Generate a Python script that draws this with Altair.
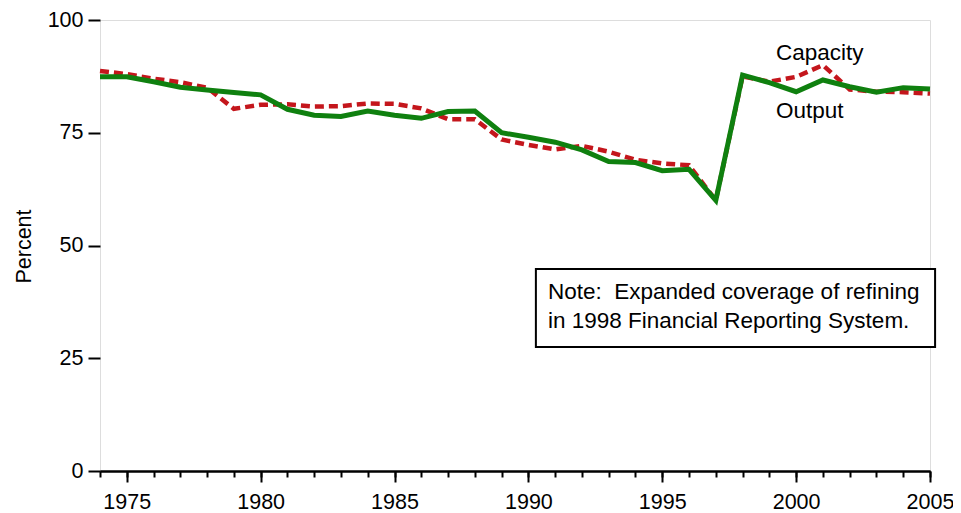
import altair as alt
import pandas as pd

years = list(range(1974, 2006))
output = [87.4, 87.4, 86.3, 85.1, 84.5, 83.9, 83.4, 80.2, 78.9, 78.6,
          79.8, 78.9, 78.2, 79.7, 79.8, 75.0, 74.0, 72.9, 71.2, 68.6,
          68.4, 66.6, 66.9, 60.0, 87.8, 86.1, 84.1, 86.7, 85.2, 84.0,
          85.0, 84.7]
capacity = [88.7, 88.0, 87.0, 86.2, 85.0, 80.3, 81.2, 81.3, 80.8, 80.9,
            81.5, 81.4, 80.4, 78.0, 78.0, 73.5, 72.3, 71.3, 72.1, 70.8,
            69.0, 68.2, 67.8, 60.0, 87.5, 86.3, 87.4, 90.0, 84.6, 84.1,
            84.0, 83.7]

major_ticks = [1975, 1980, 1985, 1990, 1995, 2000, 2005]
minor_ticks = years
y_ticks = [0, 25, 50, 75, 100]

series_labels = ["Capacity", "Output"]
label_year = [1999.25, 1999.25]
label_value = [91.1, 78.3]

note_lines = ["Note:\u00a0 Expanded coverage of refining",
              "in 1998 Financial Reporting System."]
note_year = [1990.73, 1990.73]
note_value = [38.1, 31.7]
note_box = {"x": 1990.28, "x2": 2005.19, "y": 44.8, "y2": 27.5}

FONT = "Liberation Sans"
FS = 21.5
FS_NOTE = 22.5

df_cap = pd.DataFrame({"year": years, "value": capacity})
df_out = pd.DataFrame({"year": years, "value": output})
df_lab = pd.DataFrame({"label": series_labels, "year": label_year, "value": label_value})
df_note = pd.DataFrame({"text": note_lines, "year": note_year, "value": note_value})
df_box = pd.DataFrame([note_box])

xscale = alt.Scale(domain=[1974, 2005], nice=False, zero=False)
yscale = alt.Scale(domain=[0, 100], nice=False)

minor_axis = alt.Axis(values=minor_ticks, tickSize=6, tickWidth=2, tickColor="black",
                      labels=False, domain=True, domainWidth=2, domainColor="black",
                      grid=False, title=None, orient="bottom")
major_axis = alt.Axis(values=major_ticks, tickSize=11, tickWidth=2, tickColor="black",
                      labelFontSize=FS, labelFont=FONT, labelColor="black", labelPadding=9,
                      format="d", domain=True, domainWidth=2, domainColor="black",
                      grid=False, title=None, orient="bottom", labelFlush=False)
y_axis = alt.Axis(values=y_ticks, tickSize=12, tickWidth=2, tickColor="black",
                  domain=False, grid=False, labelFontSize=FS, labelFont=FONT,
                  labelColor="black", labelPadding=5,
                  title="Percent", titleFont=FONT, titleFontSize=FS,
                  titleFontWeight="normal", titleColor="black",
                  titleX=-76, titleY=226, titleAngle=270,
                  titleBaseline="middle", titleAlign="center")

cap_line = alt.Chart(df_cap).mark_line(
    color="#c4161c", strokeWidth=4.5, strokeDash=[9, 5], strokeCap="butt"
).encode(
    x=alt.X("year:Q", scale=xscale, axis=minor_axis),
    y=alt.Y("value:Q", scale=yscale, axis=y_axis),
)

out_line = alt.Chart(df_out).mark_line(
    color="#0f800f", strokeWidth=5, strokeJoin="miter"
).encode(
    x=alt.X("year:Q", scale=xscale, axis=major_axis),
    y=alt.Y("value:Q", scale=yscale, axis=None),
)

labels = alt.Chart(df_lab).mark_text(
    align="left", baseline="alphabetic", font=FONT, fontSize=FS_NOTE, color="black"
).encode(
    x=alt.X("year:Q", scale=xscale, axis=None),
    y=alt.Y("value:Q", scale=yscale, axis=None),
    text="label:N",
)

box = alt.Chart(df_box).mark_rect(
    fill="white", stroke="black", strokeWidth=2
).encode(
    x=alt.X("x:Q", scale=xscale, axis=None),
    x2="x2:Q",
    y=alt.Y("y:Q", scale=yscale, axis=None),
    y2="y2:Q",
)

note = alt.Chart(df_note).mark_text(
    align="left", baseline="alphabetic", font=FONT, fontSize=FS_NOTE, color="black"
).encode(
    x=alt.X("year:Q", scale=xscale, axis=None),
    y=alt.Y("value:Q", scale=yscale, axis=None),
    text="text:N",
)

chart = alt.layer(cap_line, out_line, labels, box, note).resolve_axis(
    x="independent", y="independent"
).properties(
    width=830, height=451,
    autosize=alt.AutoSizeParams(type="none"),
    padding={"left": 92, "top": 12, "right": 23, "bottom": 46},
).configure_view(stroke=None).configure(background="white")

chart.save("out.html", embed_options={"renderer": "svg", "actions": False})
